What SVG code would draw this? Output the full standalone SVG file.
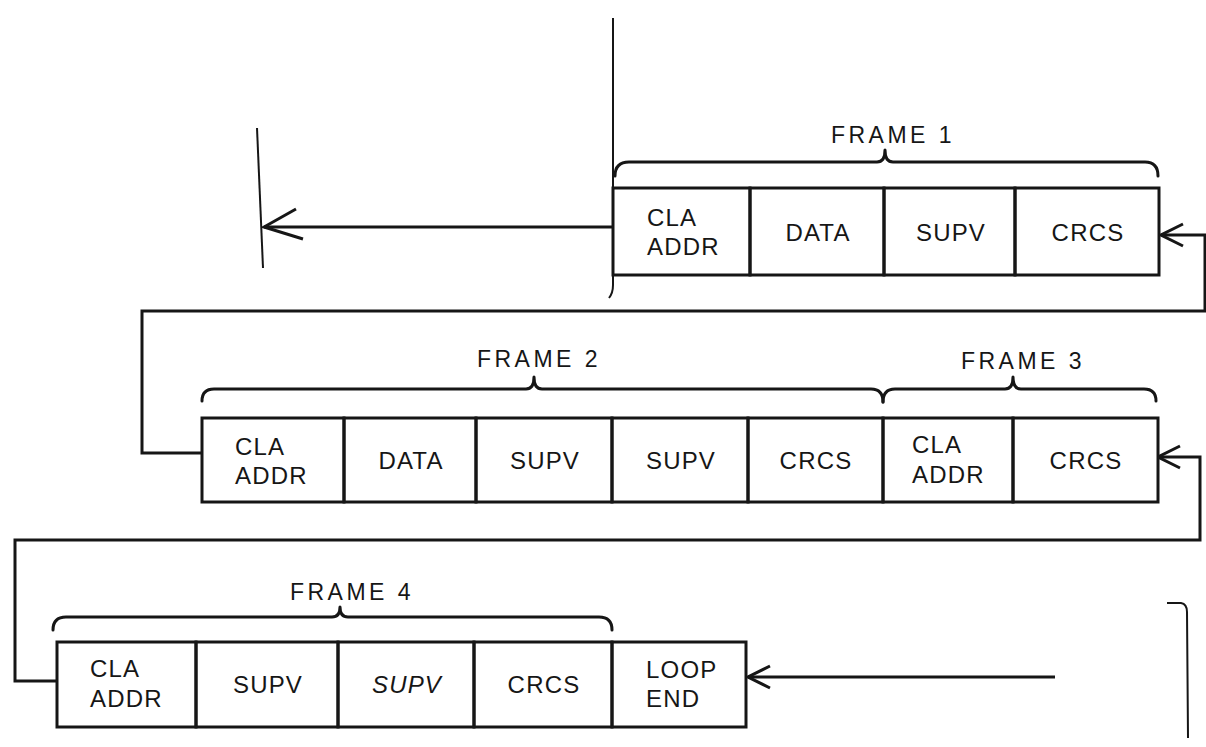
<svg xmlns="http://www.w3.org/2000/svg" width="1206" height="747" viewBox="0 0 1206 747">
<style>
.cell{fill:none;stroke:#161616;stroke-width:3}
.t{font-family:"Liberation Sans",Arial,sans-serif;font-size:24px;fill:#161616;letter-spacing:1.2px}
.c{text-anchor:middle}
.lab{font-family:"Liberation Sans",Arial,sans-serif;font-size:23px;fill:#161616;letter-spacing:3.5px;text-anchor:middle}
.br{fill:none;stroke:#161616;stroke-width:3;stroke-linecap:round;stroke-linejoin:round}
.ln{fill:none;stroke:#161616;stroke-width:3}
.thin{fill:none;stroke:#161616;stroke-width:2}
</style>
<defs>
<marker id="v" viewBox="0 0 26 26" refX="25" refY="13" markerWidth="26" markerHeight="26" markerUnits="userSpaceOnUse" orient="auto">
<path d="M3,2 L25,13 L3,24" fill="none" stroke="#161616" stroke-width="3"/>
</marker>
<marker id="vb" viewBox="0 0 42 38" refX="40" refY="18" markerWidth="42" markerHeight="38" markerUnits="userSpaceOnUse" orient="auto">
<path d="M8,36 L40,18 L1,6" fill="none" stroke="#161616" stroke-width="3"/>
</marker>
</defs>
<rect width="1206" height="747" fill="#ffffff"/>

<g id="connectors">
<path class="ln" d="M613,227 L264,227" marker-end="url(#vb)"/>
<path class="ln" d="M202,453 L142,453 L142,311 L1205,311 L1205,235 L1161,235" marker-end="url(#v)"/>
<path class="ln" d="M57,681 L15,681 L15,540 L1200,540 L1200,457 L1158,457" marker-end="url(#v)"/>
<path class="ln" d="M1055,677 L748,677" marker-end="url(#v)"/>
<path class="thin" d="M613,18 L613,285 Q613,293 609,298"/>
<path class="thin" d="M257,128 L263,268"/>
<path class="thin" d="M1167,603 L1181,603 Q1187,604 1187,612 L1188,738"/>
</g>

<g id="braces">
<path class="br" d="M615,176 Q615,162 629,162 L877,162 Q885,162 885,150 Q885,162 893,162 L1145,162 Q1158,162 1158,176"/>
<path class="br" d="M202,401 Q202,389 214,389 L526,389 Q534,389 534,377 Q534,389 542,389 L871,389 Q883,389 883,402"/>
<path class="br" d="M883,402 Q883,389 895,389 L1005,389 Q1013,389 1013,377 Q1013,389 1021,389 L1144,389 Q1156,389 1156,401"/>
<path class="br" d="M53,630 Q53,617 66,617 L332,617 Q340,617 340,607 Q340,617 348,617 L599,617 Q612,617 612,630"/>
</g>

<g id="labels">
<text class="lab" x="893" y="143">FRAME 1</text>
<text class="lab" x="539" y="367">FRAME 2</text>
<text class="lab" x="1023" y="369">FRAME 3</text>
<text class="lab" x="352" y="600">FRAME 4</text>
</g>

<g id="f1-cla"><rect class="cell" x="613" y="188" width="137" height="87"/><text class="t" x="647" y="226">CLA</text><text class="t" x="647" y="255">ADDR</text></g>
<g id="f1-data"><rect class="cell" x="750" y="188" width="134" height="87"/><text class="t c" x="818" y="241">DATA</text></g>
<g id="f1-supv"><rect class="cell" x="884" y="188" width="131" height="87"/><text class="t c" x="951" y="241">SUPV</text></g>
<g id="f1-crcs"><rect class="cell" x="1015" y="188" width="144" height="87"/><text class="t c" x="1088" y="241">CRCS</text></g>

<g id="f2-cla"><rect class="cell" x="202" y="418" width="142" height="84"/><text class="t" x="235" y="455">CLA</text><text class="t" x="235" y="484">ADDR</text></g>
<g id="f2-data"><rect class="cell" x="344" y="418" width="132" height="84"/><text class="t c" x="411" y="469">DATA</text></g>
<g id="f2-supv1"><rect class="cell" x="476" y="418" width="136" height="84"/><text class="t c" x="545" y="469">SUPV</text></g>
<g id="f2-supv2"><rect class="cell" x="612" y="418" width="136" height="84"/><text class="t c" x="681" y="469">SUPV</text></g>
<g id="f2-crcs"><rect class="cell" x="748" y="418" width="135" height="84"/><text class="t c" x="816" y="469">CRCS</text></g>
<g id="f3-cla"><rect class="cell" x="883" y="418" width="130" height="84"/><text class="t" x="912" y="453">CLA</text><text class="t" x="912" y="483">ADDR</text></g>
<g id="f3-crcs"><rect class="cell" x="1013" y="418" width="145" height="84"/><text class="t c" x="1086" y="469">CRCS</text></g>

<g id="f4-cla"><rect class="cell" x="57" y="642" width="139" height="85"/><text class="t" x="90" y="677">CLA</text><text class="t" x="90" y="707">ADDR</text></g>
<g id="f4-supv1"><rect class="cell" x="196" y="642" width="142" height="85"/><text class="t c" x="268" y="693">SUPV</text></g>
<g id="f4-supv2"><rect class="cell" x="338" y="642" width="136" height="85"/><text class="t c" x="407" y="693" font-style="italic">SUPV</text></g>
<g id="f4-crcs"><rect class="cell" x="474" y="642" width="138" height="85"/><text class="t c" x="544" y="693">CRCS</text></g>
<g id="f4-loop"><rect class="cell" x="612" y="642" width="134" height="85"/><text class="t" x="646" y="678">LOOP</text><text class="t" x="646" y="707">END</text></g>
</svg>
